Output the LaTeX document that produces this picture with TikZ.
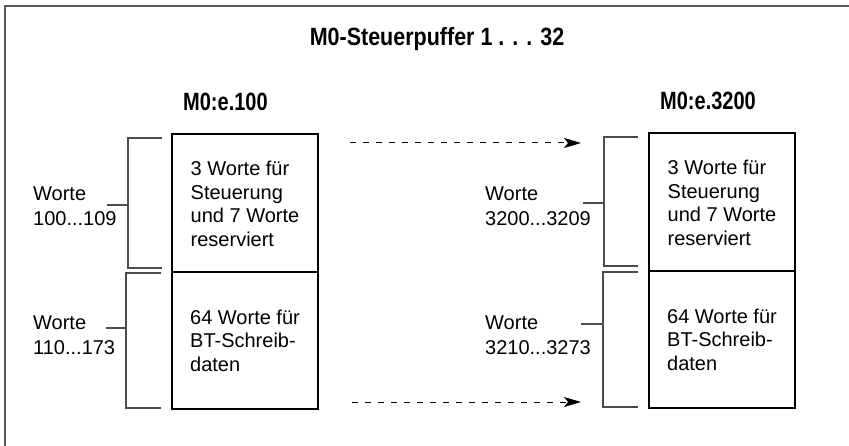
\documentclass[tikz,border=0pt]{standalone}
\usepackage{fontspec}
\setmainfont{Liberation Sans}
\usepackage{graphicx}
\usetikzlibrary{arrows.meta}

\newcommand{\narrowbf}[2][0.8]{\scalebox{#1}[1]{\bfseries #2}}

\begin{document}
\begin{tikzpicture}[x=1pt,y=-1pt,
  cell/.style={draw,line width=1.2pt,minimum width=146pt,align=left,inner sep=0pt,font=\fontsize{20}{23.5}\selectfont},
  note/.style={anchor=west,align=left,inner sep=0pt,font=\fontsize{20}{25.5}\selectfont},
  head/.style={inner sep=0pt,font=\fontsize{25}{25}\selectfont},
  brace/.style={draw=black!70,line width=1.2pt},
  flow/.style={dash pattern=on 6pt off 7pt,line width=1pt,-{Stealth[length=17pt,width=10pt,inset=4pt]}}]
 \useasboundingbox (0,0) rectangle (849,446);
 \draw[line width=1.6pt,black!65] (849,6) -- (5,6) -- (5,446);
 \node[head] (title) at (437,39) {\narrowbf[0.86]{M0-Steuerpuffer 1 . . . 32}};
 \node[head,anchor=west] (adrA) at (183,102) {\narrowbf{M0:e.100}};
 \node[head,anchor=west] (adrB) at (660,101) {\narrowbf{M0:e.3200}};
 % first buffer
 \node[cell,minimum height=138pt] (ctlA) at (245,203) {\strut3 Worte für\\Steuerung\\und 7 Worte\\reserviert};
 \node[cell,minimum height=137pt] (datA) at (245,340.5) {64 Worte für\\BT-Schreib-\\daten};
 % last buffer
 \node[cell,minimum height=138pt] (ctlB) at (722,202) {\strut3 Worte für\\Steuerung\\und 7 Worte\\reserviert};
 \node[cell,minimum height=137pt] (datB) at (722,339.5) {64 Worte für\\BT-Schreib-\\daten};
 % word ranges
 \node[note] (rngA1) at (33,206) {Worte\\100...109};
 \node[note] (rngA2) at (33,335) {Worte\\110...173};
 \node[note] (rngB1) at (485,206) {Worte\\3200...3209};
 \node[note] (rngB2) at (485,335) {Worte\\3210...3273};
 \coordinate (brA1) at (128,205);
 \coordinate (brA2) at (126,328);
 \coordinate (brB1) at (604,203);
 \coordinate (brB2) at (603,324);
 \draw[brace] (162,138) -| (128,268) -- (162,268);
 \draw[brace] (161,273) -| (126,408) -- (161,408);
 \draw[brace] (638,137) -| (604,266) -- (638,266);
 \draw[brace] (638,272) -| (603,407) -- (638,407);
 \draw[brace] (brA1) -- (107,205);
 \draw[brace] (brA2) -- (106,328);
 \draw[brace] (brB1) -- (583,203);
 \draw[brace] (brB2) -- (581,324);
 % dashed arrows
 \coordinate (topS) at (350,143);
 \coordinate (topE) at (581,143);
 \coordinate (botS) at (352,402);
 \coordinate (botE) at (581,402);
 \draw[flow] (topS) -- (topE);
 \draw[flow] (botS) -- (botE);
\end{tikzpicture}
\end{document}
